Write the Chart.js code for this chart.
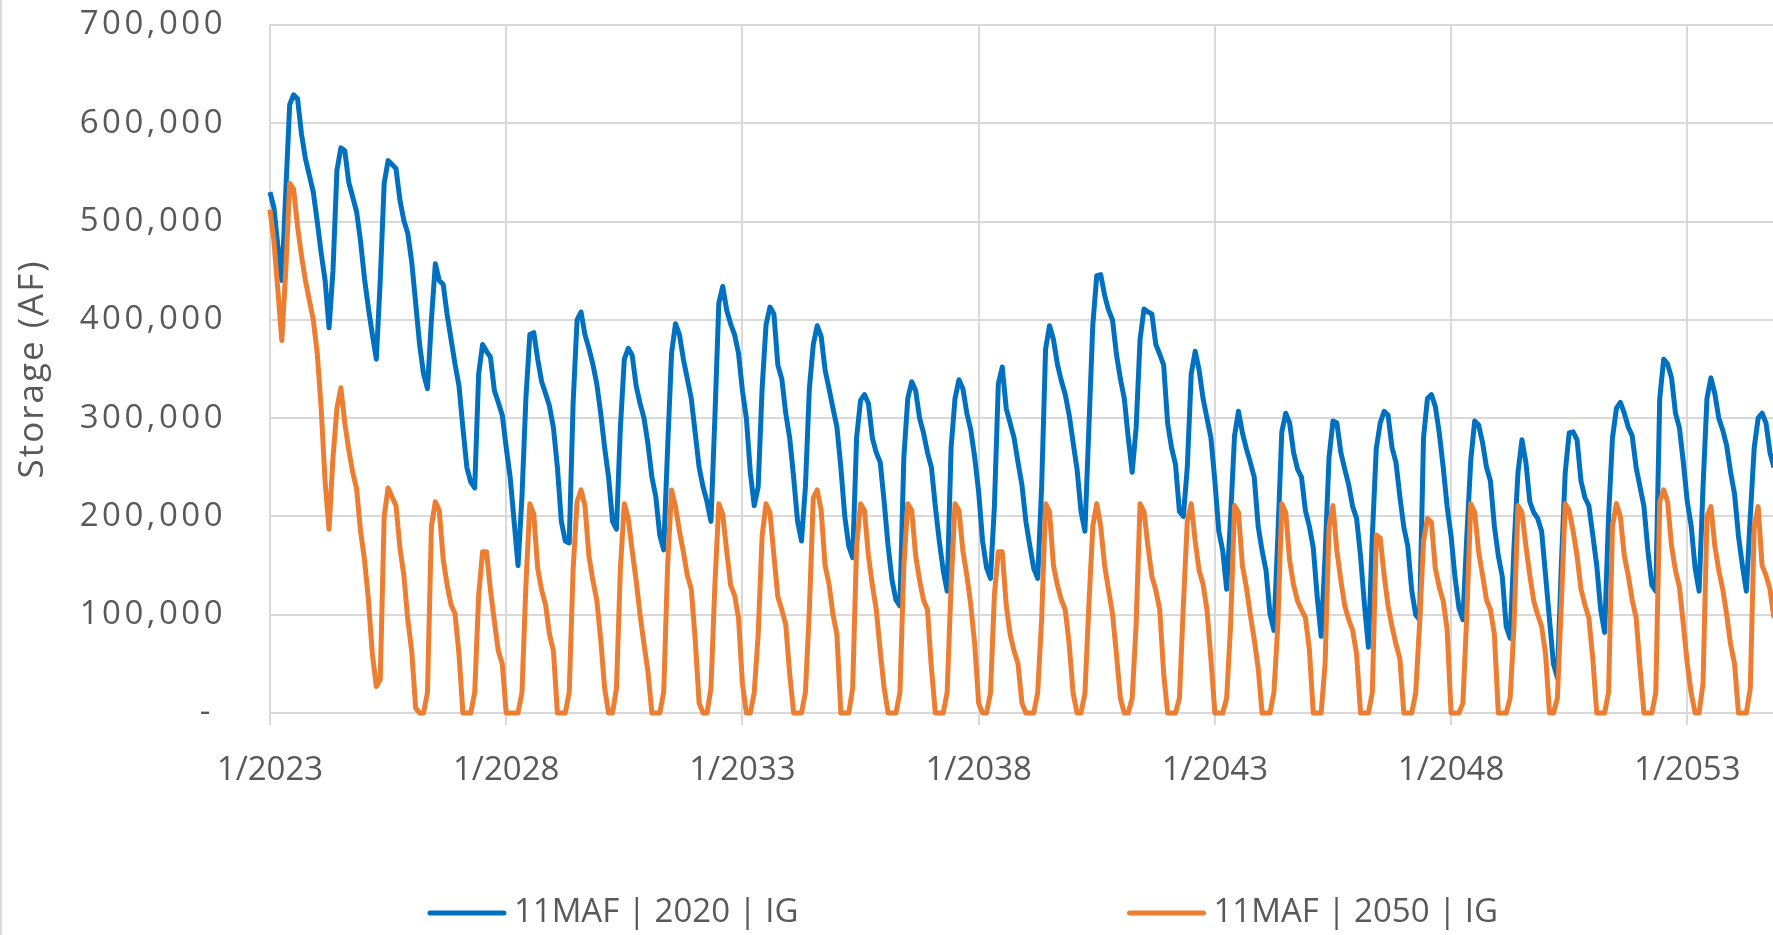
<!DOCTYPE html>
<html>
<head>
<meta charset="utf-8">
<title>Storage (AF)</title>
<script src="https://cdn.jsdelivr.net/npm/chart.js@4.4.1/dist/chart.umd.min.js"></script>
<style>
  html, body { margin: 0; padding: 0; background: #fff; overflow: hidden; width: 1773px; height: 935px; }
  #wrap { position: relative; width: 1926px; height: 935px; }
  canvas { display: block; }
</style>
</head>
<body>
<div id="wrap"><canvas id="chart" width="1926" height="935"></canvas></div>
<script>
// Monthly reservoir storage, thousands of acre-feet, starting January 2023.
const seriesLabels = ['11MAF | 2020 | IG', '11MAF | 2050 | IG'];

const storage2020 = [
  530, 514, 475, 440, 530, 619, 629, 625, 589, 564, 547, 530, // 2023
  500, 468, 440, 392, 450, 552, 575, 572, 540, 525, 510, 480, // 2024
  442, 412, 385, 360, 440, 539, 562, 558, 554, 522, 501, 488, // 2025
  459, 417, 375, 345, 330, 400, 457, 440, 436, 405, 380, 355, // 2026
  333, 290, 250, 235, 229, 345, 375, 368, 362, 328, 316, 303, // 2027
  270, 240, 195, 150, 220, 320, 385, 387, 360, 337, 325, 312, // 2028
  290, 250, 195, 175, 173, 316, 400, 408, 385, 371, 355, 335, // 2029
  305, 270, 240, 195, 187, 290, 360, 371, 364, 333, 315, 300, // 2030
  274, 240, 220, 181, 166, 270, 366, 396, 385, 360, 340, 320, // 2031
  285, 250, 230, 215, 195, 300, 417, 434, 410, 396, 385, 366, // 2032
  328, 300, 245, 211, 230, 330, 395, 413, 406, 354, 340, 305, // 2033
  280, 240, 195, 175, 230, 330, 375, 394, 383, 349, 330, 310, // 2034
  291, 250, 200, 170, 158, 280, 318, 324, 315, 280, 265, 255, // 2035
  215, 170, 135, 115, 109, 260, 320, 337, 328, 300, 285, 265, // 2036
  250, 210, 175, 145, 124, 270, 320, 339, 330, 305, 288, 260, // 2037
  225, 175, 148, 137, 210, 335, 352, 310, 295, 280, 255, 232, // 2038
  195, 170, 147, 137, 230, 370, 394, 380, 355, 338, 324, 303, // 2039
  275, 248, 205, 185, 290, 395, 445, 446, 425, 410, 400, 365, // 2040
  340, 320, 280, 245, 290, 380, 411, 408, 406, 375, 365, 354, // 2041
  295, 270, 253, 205, 200, 250, 345, 368, 349, 320, 300, 280, // 2042
  236, 185, 165, 126, 200, 282, 307, 285, 269, 255, 240, 190, // 2043
  165, 145, 101,  84, 180, 286, 305, 295, 265, 248, 240, 206, // 2044
  190, 168, 118,  78, 160, 260, 297, 295, 265, 248, 232, 210, // 2045
  198, 160, 110,  67, 180, 269, 295, 307, 303, 270, 255, 220, // 2046
  189, 170, 125, 100,  95, 280, 320, 324, 312, 285, 250, 210, // 2047
  180, 138, 107,  95, 180, 257, 297, 293, 275, 250, 236, 190, // 2048
  160, 139,  88,  76, 170, 245, 278, 255, 215, 204, 198, 185, // 2049
  140,  95,  50,  36, 150, 245, 285, 286, 278, 236, 219, 211, // 2050
  181, 150, 105,  82, 200, 280, 310, 316, 305, 291, 282, 250, // 2051
  230, 210, 165, 130, 124, 320, 360, 355, 341, 305, 290, 255, // 2052
  215, 190, 147, 124, 230, 320, 341, 325, 300, 288, 272, 245, // 2053
  223, 180, 150, 124, 200, 270, 300, 305, 295, 265, 250       // 2054
];

const storage2050 = [
  512, 480, 430, 379, 450, 539, 533, 495, 465, 440, 420, 400, // 2023
  366, 310, 235, 187, 260, 310, 331, 295, 268, 245, 228, 185, // 2024
  156, 115,  60,  27,  34, 200, 229, 220, 211, 168, 140,  95, // 2025
   63,   5,   0,   0,  21, 190, 215, 206, 156, 130, 110, 101, // 2026
   60,   0,   0,   0,  21, 120, 164, 164, 125,  93,  63,  50, // 2027
    0,   0,   0,   0,  21, 130, 213, 202, 147, 125, 110,  80, // 2028
   63,   0,   0,   0,  21, 147, 215, 227, 211, 160, 135, 115, // 2029
   75,  25,   0,   0,  25, 147, 213, 198, 165, 135, 100,  70, // 2030
   42,   0,   0,   0,  21, 150, 227, 210, 185, 164, 140, 126, // 2031
   75,  10,   0,   0,  25, 130, 213, 202, 165, 130, 120,  97, // 2032
   30,   0,   0,  21,  80, 180, 213, 204, 160, 118, 105,  90, // 2033
   40,   0,   0,   0,  21, 105, 219, 227, 206, 150, 131, 100, // 2034
   80,   0,   0,   0,  25, 170, 213, 206, 160, 130, 105,  63, // 2035
   25,   0,   0,   0,  21, 150, 213, 206, 160, 135, 115, 105, // 2036
   46,   0,   0,   0,  21, 130, 213, 206, 165, 140, 110,  70, // 2037
   10,   0,   0,  20, 120, 164, 164, 110,  80,  63,  50,  10, // 2038
    0,   0,   0,  21,  95, 213, 205, 150, 130, 115, 105,  70, // 2039
   20,   0,   0,  20, 110, 190, 213, 190, 150, 125, 101,  60, // 2040
   15,   0,   0,  15,  90, 213, 205, 170, 139, 125, 105,  40, // 2041
    0,   0,   0,  15, 110, 195, 213, 175, 145, 131, 105,  55, // 2042
    0,   0,   0,  15,  90, 211, 204, 150, 128, 100,  75,  46, // 2043
    0,   0,   0,  21,  90, 213, 204, 155, 130, 114, 105,  97, // 2044
   65,   0,   0,   0,  50, 190, 211, 165, 135, 109,  95,  84, // 2045
   60,   0,   0,   0,  21, 181, 178, 140, 109,  88,  70,  55, // 2046
    0,   0,   0,  20,  90, 175, 198, 194, 147, 128, 114,  85, // 2047
    0,   0,   0,  10, 100, 213, 204, 164, 140, 115, 105,  80, // 2048
    0,   0,   0,  15,  90, 211, 204, 170, 140, 114, 100,  88, // 2049
   60,   0,   0,  15, 110, 213, 206, 185, 160, 126, 110,  97, // 2050
   55,   0,   0,   0,  21, 190, 213, 200, 160, 140, 115,  97, // 2051
   46,   0,   0,   0,  21, 215, 227, 215, 170, 145, 128,  90, // 2052
   50,  20,   0,   0,  30, 200, 210, 170, 145, 126, 100,  70, // 2053
   50,   0,   0,   0,  25, 190, 210, 150, 140, 126,  97       // 2054
];

// Axis ticks: one date label every five years (60 months), storage in 100,000 AF steps.
const xTickLabels = ['1/2023', '1/2028', '1/2033', '1/2038', '1/2043', '1/2048', '1/2053'];
const monthsPerXTick = 60;
const yTickValues = [0, 100000, 200000, 300000, 400000, 500000, 600000, 700000];

const seriesColors = ['#0070C0', '#ED7D31'];
const gridColor = '#d9d9d9';
const textColor = '#595959';
const fontFamily = "'Open Sans', 'Noto Sans', sans-serif";

Chart.defaults.font.family = fontFamily;
Chart.defaults.color = textColor;

const toPoints = arr => arr.map((v, i) => ({ x: i, y: v * 1000 }));

// Light frame line on the left edge, plus wider letter spacing for the value axis text.
const chartFrame = {
  id: 'chartFrame',
  beforeDraw(chart) {
    const ctx = chart.ctx;
    ctx.save();
    ctx.fillStyle = '#ffffff';
    ctx.fillRect(0, 0, chart.width, chart.height);
    ctx.strokeStyle = gridColor;
    ctx.lineWidth = 2;
    ctx.beginPath();
    ctx.moveTo(1, 0);
    ctx.lineTo(1, chart.height);
    ctx.stroke();
    ctx.restore();

    const ys = chart.scales.y;
    if (ys && !ys._spacedText) {
      ys._spacedText = true;
      const drawLabels = ys.drawLabels.bind(ys);
      const drawTitle = ys.drawTitle.bind(ys);
      ys.drawLabels = area => {
        const prev = ctx.letterSpacing;
        ctx.letterSpacing = '3.5px';
        drawLabels(area);
        ctx.letterSpacing = prev || '0px';
      };
      ys.drawTitle = () => {
        const prev = ctx.letterSpacing;
        ctx.letterSpacing = '2px';
        drawTitle();
        ctx.letterSpacing = prev || '0px';
      };
    }
  }
};

// Legend row under the plot: a line sample followed by the series name.
const bottomLegend = {
  id: 'bottomLegend',
  afterDraw(chart, args, opts) {
    const ctx = chart.ctx;
    ctx.save();
    ctx.letterSpacing = '0px';
    ctx.font = opts.fontSize + 'px ' + fontFamily;
    const items = chart.data.datasets.map(ds => ({
      text: ds.label,
      color: ds.borderColor,
      width: ctx.measureText(ds.label).width
    }));
    const widths = items.map(it => opts.lineLength + opts.textGap + it.width);
    const total = widths.reduce((a, b) => a + b, 0) + opts.itemGap * (items.length - 1);
    let x = chart.width / 2 - total / 2;
    items.forEach((it, k) => {
      ctx.strokeStyle = it.color;
      ctx.lineWidth = opts.lineWidth;
      ctx.lineCap = 'round';
      ctx.beginPath();
      ctx.moveTo(x + 2, opts.y);
      ctx.lineTo(x + opts.lineLength - 2, opts.y);
      ctx.stroke();
      ctx.fillStyle = textColor;
      ctx.textAlign = 'left';
      ctx.textBaseline = 'middle';
      ctx.fillText(it.text, x + opts.lineLength + opts.textGap, opts.y);
      x += widths[k] + opts.itemGap;
    });
    ctx.restore();
  }
};

new Chart(document.getElementById('chart'), {
  type: 'line',
  data: {
    datasets: [
      {
        label: seriesLabels[0],
        data: toPoints(storage2020),
        borderColor: seriesColors[0],
        backgroundColor: seriesColors[0],
        borderWidth: 5,
        pointRadius: 0,
        tension: 0,
        borderJoinStyle: 'round',
        clip: 6,
        order: 1
      },
      {
        label: seriesLabels[1],
        data: toPoints(storage2050),
        borderColor: seriesColors[1],
        backgroundColor: seriesColors[1],
        borderWidth: 5,
        pointRadius: 0,
        tension: 0,
        borderJoinStyle: 'round',
        clip: 6,
        order: 0
      }
    ]
  },
  options: {
    responsive: false,
    animation: false,
    events: [],
    layout: { padding: { left: 0, right: 2.5, top: 25, bottom: 122 } },
    plugins: {
      legend: { display: false },
      tooltip: { enabled: false },
      bottomLegend: { y: 913, fontSize: 33, lineLength: 78, lineWidth: 5, textGap: 8, itemGap: 329 }
    },
    scales: {
      x: {
        type: 'linear',
        min: 0,
        max: 420,
        afterBuildTicks: s => { s.ticks = xTickLabels.map((_, k) => ({ value: k * monthsPerXTick })); },
        afterFit: s => { s.height = 100; s.paddingLeft = 0; s.paddingRight = 0; },
        grid: { color: gridColor, lineWidth: 2, drawTicks: true, tickLength: 12, tickColor: gridColor },
        border: { color: gridColor, width: 2 },
        ticks: {
          autoSkip: false,
          maxRotation: 0,
          padding: 26,
          font: { size: 33 },
          callback: (v, i) => xTickLabels[i]
        }
      },
      y: {
        min: 0,
        max: 700000,
        afterBuildTicks: s => { s.ticks = yTickValues.map(v => ({ value: v })); },
        afterFit: s => { s.width = 270; s.paddingTop = 0; s.paddingBottom = 0; },
        grid: { color: gridColor, lineWidth: 2, drawTicks: false },
        border: { color: gridColor, width: 2 },
        ticks: {
          padding: 44,
          font: { size: 33 },
          callback: v => v === 0 ? '- ' : v.toLocaleString('en-US')
        },
        title: {
          display: true,
          text: 'Storage (AF)',
          font: { size: 35 },
          padding: { top: 12, bottom: 0 }
        }
      }
    }
  },
  plugins: [chartFrame, bottomLegend]
});
</script>
</body>
</html>
